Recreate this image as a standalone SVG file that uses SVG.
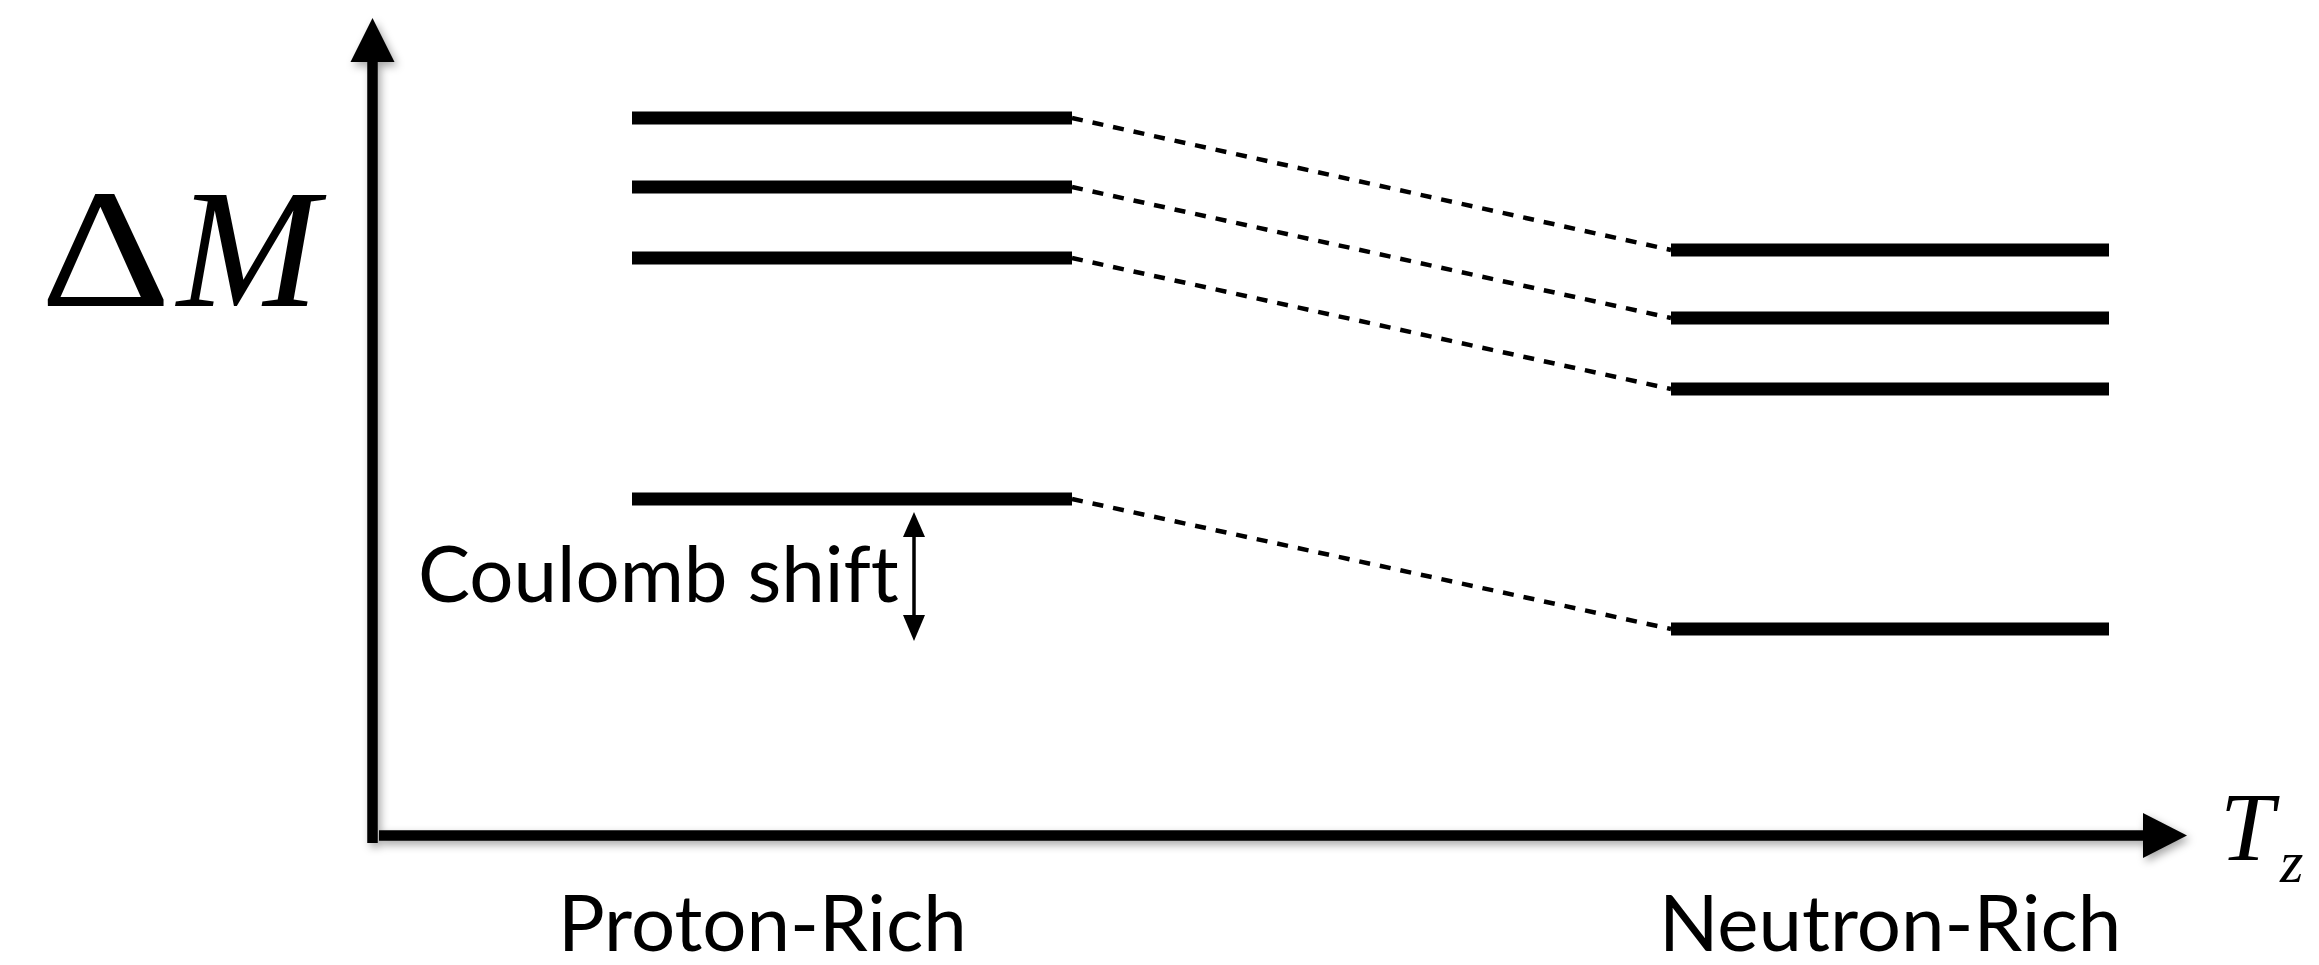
<svg xmlns="http://www.w3.org/2000/svg" width="2319" height="965" viewBox="0 0 2319 965">
<style>
.lvl{stroke:#000;stroke-width:13;fill:none}
.dash{stroke:#000;stroke-width:4.5;stroke-dasharray:11 10;fill:none}
.axis{stroke:#000;stroke-width:10.5;fill:none}
.lbl{font-family:Lato,"Open Sans","Liberation Sans",sans-serif;fill:#000;font-variant-ligatures:none}
.math{font-family:"Liberation Serif","DejaVu Serif",serif;fill:#000}
</style>
<defs>
<filter id="sh" x="-20%" y="-20%" width="140%" height="140%">
<feDropShadow dx="3" dy="4" stdDeviation="4" flood-color="#000" flood-opacity="0.35"/>
</filter>
</defs>
<rect width="2319" height="965" fill="#fff"/>
<g id="axes" filter="url(#sh)">
<line class="axis" x1="372.5" y1="843" x2="372.5" y2="60"/>
<polygon points="350.5,62 394.5,62 372.5,18" fill="#000"/>
<line class="axis" x1="379" y1="835.5" x2="2145" y2="835.5"/>
<polygon points="2143,813 2143,858 2187,835.5" fill="#000"/>
</g>
<g id="connectors">
<line class="dash" x1="1072" y1="118" x2="1671" y2="250"/>
<line class="dash" x1="1072" y1="187" x2="1671" y2="318"/>
<line class="dash" x1="1072" y1="258" x2="1671" y2="389"/>
<line class="dash" x1="1072" y1="499" x2="1671" y2="629"/>
</g>
<g id="proton-levels">
<line class="lvl" x1="632" y1="118" x2="1072" y2="118"/>
<line class="lvl" x1="632" y1="187" x2="1072" y2="187"/>
<line class="lvl" x1="632" y1="258" x2="1072" y2="258"/>
<line class="lvl" x1="632" y1="499" x2="1072" y2="499"/>
</g>
<g id="neutron-levels">
<line class="lvl" x1="1671" y1="250" x2="2109" y2="250"/>
<line class="lvl" x1="1671" y1="318" x2="2109" y2="318"/>
<line class="lvl" x1="1671" y1="389" x2="2109" y2="389"/>
<line class="lvl" x1="1671" y1="629" x2="2109" y2="629"/>
</g>
<g id="coulomb-shift">
<line x1="914" y1="534" x2="914" y2="618" stroke="#000" stroke-width="3.5"/>
<polygon points="903,537 925,537 914,512" fill="#000"/>
<polygon points="903,615 925,615 914,641" fill="#000"/>
<text class="lbl" x="418" y="602" font-size="78">Coulomb shift</text>
</g>
<g id="y-label">
<text class="math" x="0" y="0" font-size="170" transform="translate(40,306) scale(1.2,1)">Δ</text>
<text class="math" x="177" y="306" font-size="170" font-style="italic">M</text>
</g>
<g id="x-label">
<text class="math" x="2220" y="860" font-size="97" font-style="italic">T</text>
<text class="math" x="2280" y="882" font-size="60" font-style="italic">z</text>
</g>
<text id="proton-rich" class="lbl" x="558" y="951" font-size="78">Proton-Rich</text>
<text id="neutron-rich" class="lbl" x="1659" y="951" font-size="78">Neutron-Rich</text>
</svg>
